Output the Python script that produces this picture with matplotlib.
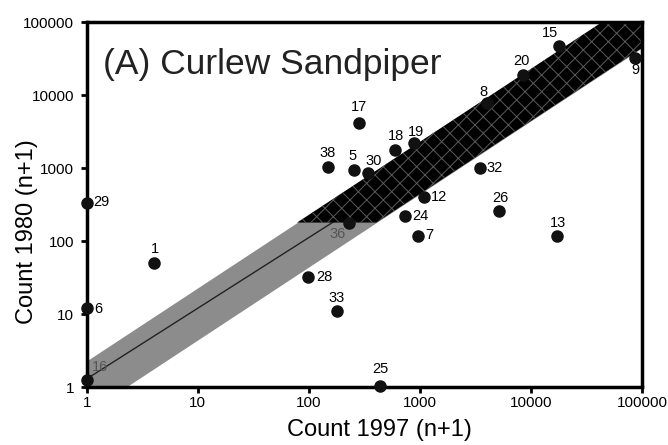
"""
Curlew Sandpiper site counts: 1980 versus 1997 on log-log axes.

Each dot is a site (count + 1 so zero counts fit on the log scale).
The grey band is the "no change" envelope around the 1:1 trend, and the
dark hatched part marks where most of the large sites sit.
"""

import matplotlib

matplotlib.use("Agg")

import matplotlib.pyplot as plt
import numpy as np


# -----------------------------
# 1. Data
# -----------------------------

SITE_IDS = [
    "15", "20", "8", "9", "17", "18", "19", "38", "5", "30", "32", "12",
    "24", "7", "26", "13", "28", "33", "25", "1", "29", "6", "16", "36",
]

COUNT_1997 = [
    18000, 8500, 4000, 87000, 284, 600, 890, 150, 255, 340, 3500, 1080,
    730, 970, 5150, 17000, 98, 178, 440, 4, 1, 1, 1, 230,
]

COUNT_1980 = [
    47000, 19000, 7800, 32000, 4100, 1800, 2250, 1050, 960, 860, 1000, 400,
    220, 117, 260, 117, 32, 11, 1.05, 50, 330, 12, 1.25, 180,
]

# Band around the trend line (multiplicative limits) and the trend itself.
BAND_UPPER_FACTOR = 2.3
BAND_LOWER_FACTOR = 2.25
DARK_BAND_MIN_COUNT = 180
TREND_X = [1, 100000]
TREND_Y = [1.3, 90000]

AXIS_TICKS = [1, 10, 100, 1000, 10000, 100000]
AXIS_TICK_LABELS = ["1", "10", "100", "1000", "10000", "100000"]


# -----------------------------
# 2. Style settings
# -----------------------------

FONT = "Liberation Sans"
BAND_GREY = "#8c8c8c"
HATCH_GREY = "#5a5a5a"
DOT_COLOR = "#111111"

# Label offsets in pixels (dx, dy) relative to each dot, same order as SITE_IDS.
LABEL_OFFSETS = [
    (-9, 13), (-2, 14), (-3, 11), (0, -12), (0, 16), (1, 14), (2, 11), (-1, 14),
    (-2, 14), (6, 12), (14, 0), (15, 0), (16, 0), (11, 1), (1, 13), (1, 13),
    (16, 0), (0, 13), (0, 17), (1, 14), (15, 1), (11, -1), (13, 13), (-11, -11),
]

GREY_LABELS = {"16", "36"}


def style_axes(ax: plt.Axes) -> None:
    """Log axes with heavy black frame and plain decade labels."""
    ax.set_xscale("log")
    ax.set_yscale("log")
    ax.set_xlim(1, 100000)
    ax.set_ylim(1, 100000)

    ax.set_xticks(AXIS_TICKS)
    ax.set_xticklabels(AXIS_TICK_LABELS)
    ax.set_yticks(AXIS_TICKS)
    ax.set_yticklabels(AXIS_TICK_LABELS)
    ax.minorticks_off()

    ax.tick_params(axis="both", direction="out", length=4, width=2, labelsize=11)
    ax.tick_params(axis="x", pad=2.5)
    ax.tick_params(axis="y", pad=5)

    for spine in ax.spines.values():
        spine.set_linewidth(2.5)
        spine.set_color("black")
        spine.set_zorder(4)


def draw_band(ax: plt.Axes) -> None:
    """Grey envelope, dark hatched upper part and the trend line."""
    band_x = np.array(TREND_X, dtype=float)
    ax.fill_between(
        band_x,
        band_x / BAND_LOWER_FACTOR,
        band_x * BAND_UPPER_FACTOR,
        color=BAND_GREY,
        linewidth=0,
        zorder=1,
    )

    ax.plot(TREND_X, TREND_Y, color="#222222", linewidth=1.0, zorder=2)

    # Dark part of the envelope: same band, but only above the count threshold.
    grid = np.geomspace(TREND_X[0], TREND_X[1], 600)
    upper = grid * BAND_UPPER_FACTOR
    lower = np.maximum(grid / BAND_LOWER_FACTOR, DARK_BAND_MIN_COUNT)
    plt.rcParams["hatch.linewidth"] = 0.7
    ax.fill_between(
        grid,
        lower,
        upper,
        where=upper >= DARK_BAND_MIN_COUNT,
        facecolor="black",
        edgecolor=HATCH_GREY,
        hatch="xx",
        linewidth=0,
        zorder=2.5,
    )


def draw_sites(ax: plt.Axes) -> None:
    """Site dots with their number labels."""
    ax.plot(
        COUNT_1997,
        COUNT_1980,
        linestyle="none",
        marker="o",
        markersize=8,
        color=DOT_COLOR,
        clip_on=False,
        zorder=5,
    )

    for site, x, y, (dx, dy) in zip(SITE_IDS, COUNT_1997, COUNT_1980, LABEL_OFFSETS):
        ax.annotate(
            site,
            xy=(x, y),
            xytext=(dx, dy),
            textcoords="offset pixels",
            ha="center",
            va="center",
            fontsize=10.5,
            color="#555555" if site in GREY_LABELS else "black",
            annotation_clip=False,
            zorder=6,
        )


def main() -> None:
    plt.rcParams["font.family"] = [FONT, "DejaVu Sans"]

    fig = plt.figure(figsize=(6.68, 4.45), dpi=100)
    ax = fig.add_axes([0.130, 0.130, 0.831, 0.820])

    style_axes(ax)
    draw_band(ax)
    draw_sites(ax)

    ax.text(
        0.03,
        0.885,
        "(A) Curlew Sandpiper",
        transform=ax.transAxes,
        fontsize=25.5,
        color="#222222",
        ha="left",
        va="center",
    )

    ax.set_xlabel("Count 1997 (n+1)", fontsize=17)
    ax.set_ylabel("Count 1980 (n+1)", fontsize=17)
    ax.xaxis.set_label_coords(0.528, -0.088)
    ax.yaxis.set_label_coords(-0.088, 0.427)

    fig.savefig("out.png", dpi=100, facecolor="white")
    plt.close(fig)


if __name__ == "__main__":
    main()
